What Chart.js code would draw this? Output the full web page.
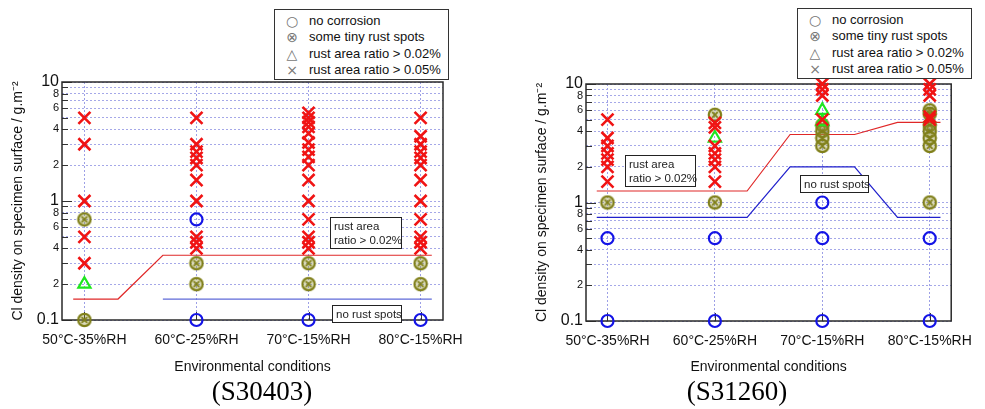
<!DOCTYPE html>
<html>
<head>
<meta charset="utf-8">
<script src="https://cdn.jsdelivr.net/npm/chart.js@4/dist/chart.umd.min.js"></script>
<style>
body { margin: 0; background: #fff; font-family: "Liberation Sans", Arial, sans-serif; }
.panel { position: absolute; top: 0; height: 409px; }
.legend { position: absolute; border: 1px solid #333; background: #fff; font-size: 13px; padding: 3px 0 0 0; color: #111; white-space: nowrap; box-sizing: border-box; }
.legend .row { height: 16.3px; line-height: 16.3px; overflow: visible; }
.legend .sym { display: inline-block; width: 34px; height: 16px; line-height: 16px; vertical-align: top; text-align: center; color: #777; font-family: "DejaVu Sans", sans-serif; font-size: 14px; }
.note { position: absolute; border: 1px solid #222; background: #fff; font-size: 11.5px; line-height: 14px; padding: 1px 3px; color: #222; white-space: nowrap; box-sizing: border-box; }
.caption { position: absolute; top: 375px; width: 200px; text-align: center; font-family: "Liberation Serif", "Times New Roman", serif; font-size: 27px; line-height: 32px; color: #000; }
</style>
</head>
<body>
<div class="panel" id="panelA" style="left:0;width:490px">
  <canvas id="chartA" width="490" height="409"></canvas>
  <div class="caption" style="left:162px">(S30403)</div>
</div>
<div class="panel" id="panelB" style="left:490px;width:495px">
  <canvas id="chartB" width="495" height="409"></canvas>
  <div class="caption" style="left:147px">(S31260)</div>
</div>

<script>
// Categories and axis ticks
const categories = ['50°C-35%RH', '60°C-25%RH', '70°C-15%RH', '80°C-15%RH'];
const yTickValues = [0.1, 0.2, 0.3, 0.4, 0.5, 0.6, 0.7, 0.8, 0.9, 1, 2, 3, 4, 5, 6, 7, 8, 9, 10];
const yTickLabels = ['0.1', '2', '', '4', '', '6', '', '8', '', '1', '2', '', '4', '', '6', '', '8', '', '10'];
const yMajorValues = [0.1, 1, 10];

// S30403 - Cl density per category, grouped by result
const s30403Cross = [
    [5, 3, 1, 0.5, 0.3],
    [5, 3, 2.6, 2.3, 2, 1.5, 1, 0.5, 0.45, 0.4],
    [5.5, 5, 4.6, 4.2, 3.7, 3.1, 2.7, 2.35, 2, 1.5, 1, 0.7, 0.5, 0.45, 0.4],
    [5, 3.5, 3, 2.6, 2.3, 2, 1.5, 1, 0.7, 0.5, 0.45, 0.4]
];
const s30403Spots = [[0.7, 0.1], [0.3, 0.2], [0.3, 0.2], [0.3, 0.2]];
const s30403Circle = [[], [0.7, 0.1], [0.1], [0.1]];
const s30403Triangle = [[0.2], [], [], []];
const s30403RedX = [-0.1, 0.3, 0.7, 3.1];
const s30403RedY = [0.15, 0.15, 0.35, 0.35];
const s30403BlueX = [0.7, 3.1];
const s30403BlueY = [0.15, 0.15];

// S31260
const s31260Cross = [
    [5, 3.5, 3, 2.6, 2.3, 2, 1.5],
    [4.7, 4.3, 3, 2.6, 2.3, 2, 1.5],
    [10, 9, 8, 5],
    [10, 9, 8, 5.3, 5]
];
const s31260Spots = [[1], [5.5, 1], [4.5, 4, 3.5, 3], [6, 5.6, 4.5, 4, 3.5, 3, 1]];
const s31260Circle = [[0.5, 0.1], [0.5, 0.1], [1, 0.5, 0.1], [0.5, 0.1]];
const s31260Triangle = [[], [3.5], [6, 4.8], []];
const s31260RedX = [-0.1, 1.3, 1.7, 2.3, 2.7, 3.1];
const s31260RedY = [1.25, 1.25, 3.75, 3.75, 4.75, 4.75];
const s31260BlueX = [-0.1, 1.3, 1.7, 2.3, 2.7, 3.1];
const s31260BlueY = [0.75, 0.75, 2, 2, 0.75, 0.75];

const SANS = '"Liberation Sans", Arial, sans-serif';

// Turn per-category lists into scatter points
function toPoints(groups) {
    return groups.flatMap((vals, i) => vals.map(v => ({ x: i, y: v })));
}

function toLine(xs, ys) {
    return xs.map((x, i) => ({ x: x, y: ys[i] }));
}

// Circle with an x inside (some tiny rust spots)
function makeSpotSymbol() {
    const c = document.createElement('canvas');
    c.width = 16;
    c.height = 16;
    const g = c.getContext('2d');
    g.fillStyle = 'rgba(150,150,60,0.35)';
    g.strokeStyle = '#80801a';
    g.lineWidth = 2.2;
    g.beginPath();
    g.arc(8, 8, 6.2, 0, Math.PI * 2);
    g.fill();
    g.stroke();
    g.lineWidth = 1.8;
    g.beginPath();
    g.moveTo(5.2, 5.2); g.lineTo(10.8, 10.8);
    g.moveTo(10.8, 5.2); g.lineTo(5.2, 10.8);
    g.stroke();
    return c;
}
const spotSymbol = makeSpotSymbol();

// Frame and inward tick marks
const framePlugin = {
    id: 'frame',
    beforeDatasetsDraw(chart) {
        const { ctx, chartArea: a, scales } = chart;
        ctx.save();
        ctx.strokeStyle = '#333';
        ctx.lineWidth = 1;
        // y ticks pointing into the plot
        yTickValues.forEach(v => {
            const y = Math.round(scales.y.getPixelForValue(v)) + 0.5;
            const len = yMajorValues.includes(v) ? 10 : 6;
            ctx.beginPath();
            ctx.moveTo(a.left, y);
            ctx.lineTo(a.left + len, y);
            ctx.stroke();
        });
        // category ticks on the bottom axis
        categories.forEach((c, i) => {
            const x = Math.round(scales.x.getPixelForValue(i)) + 0.5;
            ctx.beginPath();
            ctx.moveTo(x, a.bottom);
            ctx.lineTo(x, a.bottom - 8);
            ctx.stroke();
        });
        ctx.lineWidth = 1.5;
        ctx.strokeStyle = '#2a2a2a';
        ctx.strokeRect(a.left, a.top, a.right - a.left, a.bottom - a.top);
        ctx.restore();
    }
};

function buildChart(canvasId, d, layout) {
    const datasets = [
        {
            data: toLine(d.redX, d.redY), showLine: true, pointRadius: 0,
            borderColor: '#e02828', borderWidth: 1.2, order: 10
        },
        {
            data: toLine(d.blueX, d.blueY), showLine: true, pointRadius: 0,
            borderColor: d.blueColor, borderWidth: 1.2, order: 10
        },
        {
            data: toPoints(d.circle), pointStyle: 'circle', pointRadius: 6,
            borderColor: '#1414e6', backgroundColor: 'rgba(0,0,0,0)', borderWidth: 2.2, order: 4
        },
        {
            data: toPoints(d.spots), pointStyle: spotSymbol, order: 3
        },
        {
            data: toPoints(d.triangle), pointStyle: 'triangle', pointRadius: 7,
            borderColor: '#1ee61e', backgroundColor: 'rgba(0,0,0,0)', borderWidth: 2.2, order: 2
        },
        {
            data: toPoints(d.cross), pointStyle: 'crossRot', pointRadius: 8.5,
            borderColor: '#f01414', borderWidth: 2.6, order: 1
        }
    ];
    datasets.forEach(ds => { ds.clip = false; });

    return new Chart(document.getElementById(canvasId), {
        type: 'scatter',
        data: { datasets: datasets },
        options: {
            responsive: false,
            animation: false,
            events: [],
            layout: { padding: layout.padding },
            plugins: {
                legend: { display: false },
                tooltip: { enabled: false }
            },
            scales: {
                x: {
                    type: 'linear', min: -0.2, max: 3.2,
                    afterBuildTicks: s => { s.ticks = categories.map((c, i) => ({ value: i })); },
                    afterFit: s => { s.height = layout.xHeight; },
                    ticks: {
                        callback: v => categories[v], color: '#111', padding: 12,
                        font: { family: SANS, size: 14 }, maxRotation: 0, autoSkip: false
                    },
                    grid: { color: '#9da0e6', lineWidth: 1, drawTicks: false, borderDash: [2, 2] },
                    border: { display: false, dash: [2, 2] },
                    title: {
                        display: true, text: 'Environmental conditions', color: '#111',
                        font: { family: SANS, size: 14 }, padding: { top: 0, bottom: 0 }
                    }
                },
                y: {
                    type: 'logarithmic', min: 0.1, max: 10,
                    afterBuildTicks: s => { s.ticks = yTickValues.map(v => ({ value: v })); },
                    afterFit: s => { s.width = 54; },
                    ticks: {
                        callback: (v, i) => yTickLabels[i], color: '#111', padding: 3, autoSkip: false,
                        font: c => ({ family: SANS, size: yMajorValues.includes(c.tick && c.tick.value) ? 16 : 11 })
                    },
                    grid: { color: '#a5a8e8', lineWidth: 1, drawTicks: false, borderDash: [2, 2] },
                    border: { display: false, dash: [2, 2] },
                    title: {
                        display: true, text: 'Cl density on specimen surface / g.m⁻²', color: '#111',
                        font: { family: SANS, size: 14 }, padding: { top: 2, bottom: 0 }
                    }
                }
            }
        },
        plugins: [framePlugin]
    });
}

buildChart('chartA', {
    cross: s30403Cross, spots: s30403Spots, circle: s30403Circle, triangle: s30403Triangle,
    redX: s30403RedX, redY: s30403RedY, blueX: s30403BlueX, blueY: s30403BlueY, blueColor: '#5f6ad8'
}, { padding: { left: 8, right: 47, top: 82, bottom: 33.2 }, xHeight: 55.8 });

buildChart('chartB', {
    cross: s31260Cross, spots: s31260Spots, circle: s31260Circle, triangle: s31260Triangle,
    redX: s31260RedX, redY: s31260RedY, blueX: s31260BlueX, blueY: s31260BlueY, blueColor: '#2020cc'
}, { padding: { left: 42, right: 20, top: 84, bottom: 33.2 }, xHeight: 54.8 });

// Legend boxes and notes, placed over each panel
const legendItems = [
    ['○', 'no corrosion'],
    ['⊗', 'some tiny rust spots'],
    ['△', 'rust area ratio > 0.02%'],
    ['×', 'rust area ratio > 0.05%']
];

function addLegend(panelId, left, top) {
    const box = document.createElement('div');
    box.className = 'legend';
    box.style.left = left + 'px';
    box.style.top = top + 'px';
    box.style.width = '175px';
    box.style.height = '71px';
    box.innerHTML = legendItems.map(it =>
        `<div class="row"><span class="sym">${it[0]}</span>${it[1]}</div>`).join('');
    document.getElementById(panelId).appendChild(box);
}

function addNote(panelId, left, top, width, html) {
    const n = document.createElement('div');
    n.className = 'note';
    n.style.left = left + 'px';
    n.style.top = top + 'px';
    n.style.width = width + 'px';
    n.innerHTML = html;
    document.getElementById(panelId).appendChild(n);
}

addLegend('panelA', 274, 9);
addLegend('panelB', 307, 8);
addNote('panelA', 330, 217, 72, 'rust area<br>ratio &gt; 0.02%');
addNote('panelA', 332, 305, 70, 'no rust spots');
addNote('panelB', 135, 155, 71, 'rust area<br>ratio &gt; 0.02%');
addNote('panelB', 310, 175, 69, 'no rust spots');
</script>
</body>
</html>
